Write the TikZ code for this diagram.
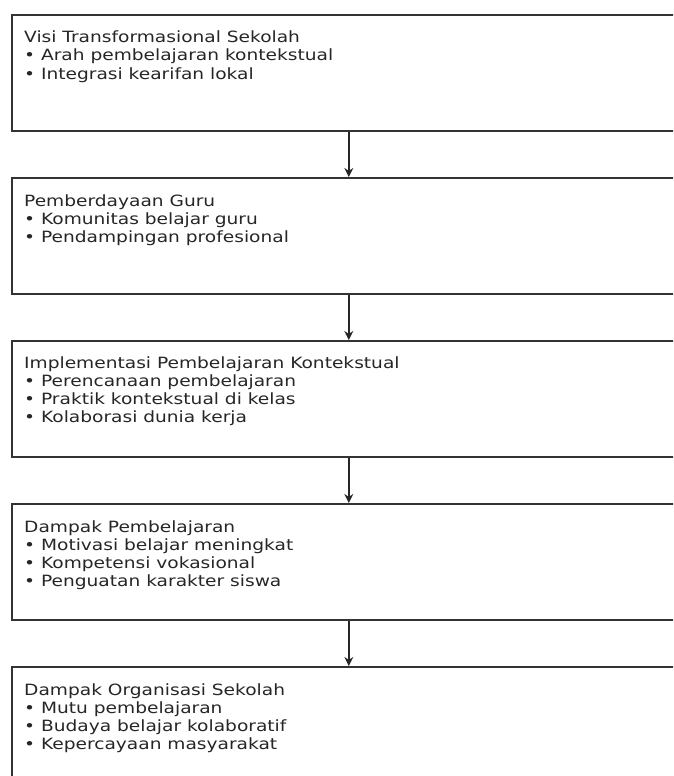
\documentclass[tikz,border=0pt]{standalone}
\usepackage{fontspec}
\setmainfont[FakeStretch=1.2]{DejaVu Sans}
\usetikzlibrary{arrows.meta}
\begin{document}
\begin{tikzpicture}[x=1pt,y=-1pt,
  stagebox/.style={draw=black!80, line width=1.6pt, minimum width=674pt, minimum height=116pt, inner sep=0pt, anchor=north west},
  stagetext/.style={anchor=base west, align=left, inner sep=0pt, font=\fontsize{15.5}{18}\selectfont, text=black!85},
  flow/.style={draw=black!85, line width=1.4pt, -{Stealth[length=9pt,width=9pt]}}]
\useasboundingbox (0,0) rectangle (673,776);
\clip (0,0) rectangle (673,776);
\node[stagebox] (b1) at (11,14) {};
\node[stagebox] (b2) at (11,177) {};
\node[stagebox] (b3) at (11,340) {};
\node[stagebox] (b4) at (11,503) {};
\node[stagebox] (b5) at (11,666) {};
% base anchor of a multi-line node is the baseline of its last line
\node[stagetext] (t1) at (24,79) {Visi Transformasional Sekolah\\• Arah pembelajaran kontekstual\\• Integrasi kearifan lokal};
\node[stagetext] (t2) at (24,242) {Pemberdayaan Guru\\• Komunitas belajar guru\\• Pendampingan profesional};
\node[stagetext] (t3) at (24,422) {Implementasi Pembelajaran Kontekstual\\• Perencanaan pembelajaran\\• Praktik kontekstual di kelas\\• Kolaborasi dunia kerja};
\node[stagetext] (t4) at (24,586) {Dampak Pembelajaran\\• Motivasi belajar meningkat\\• Kompetensi vokasional\\• Penguatan karakter siswa};
\node[stagetext] (t5) at (24,749) {Dampak Organisasi Sekolah\\• Mutu pembelajaran\\• Budaya belajar kolaboratif\\• Kepercayaan masyarakat};
\draw[flow] (b1.south) -- (b2.north);
\draw[flow] (b2.south) -- (b3.north);
\draw[flow] (b3.south) -- (b4.north);
\draw[flow] (b4.south) -- (b5.north);
\end{tikzpicture}
\end{document}
